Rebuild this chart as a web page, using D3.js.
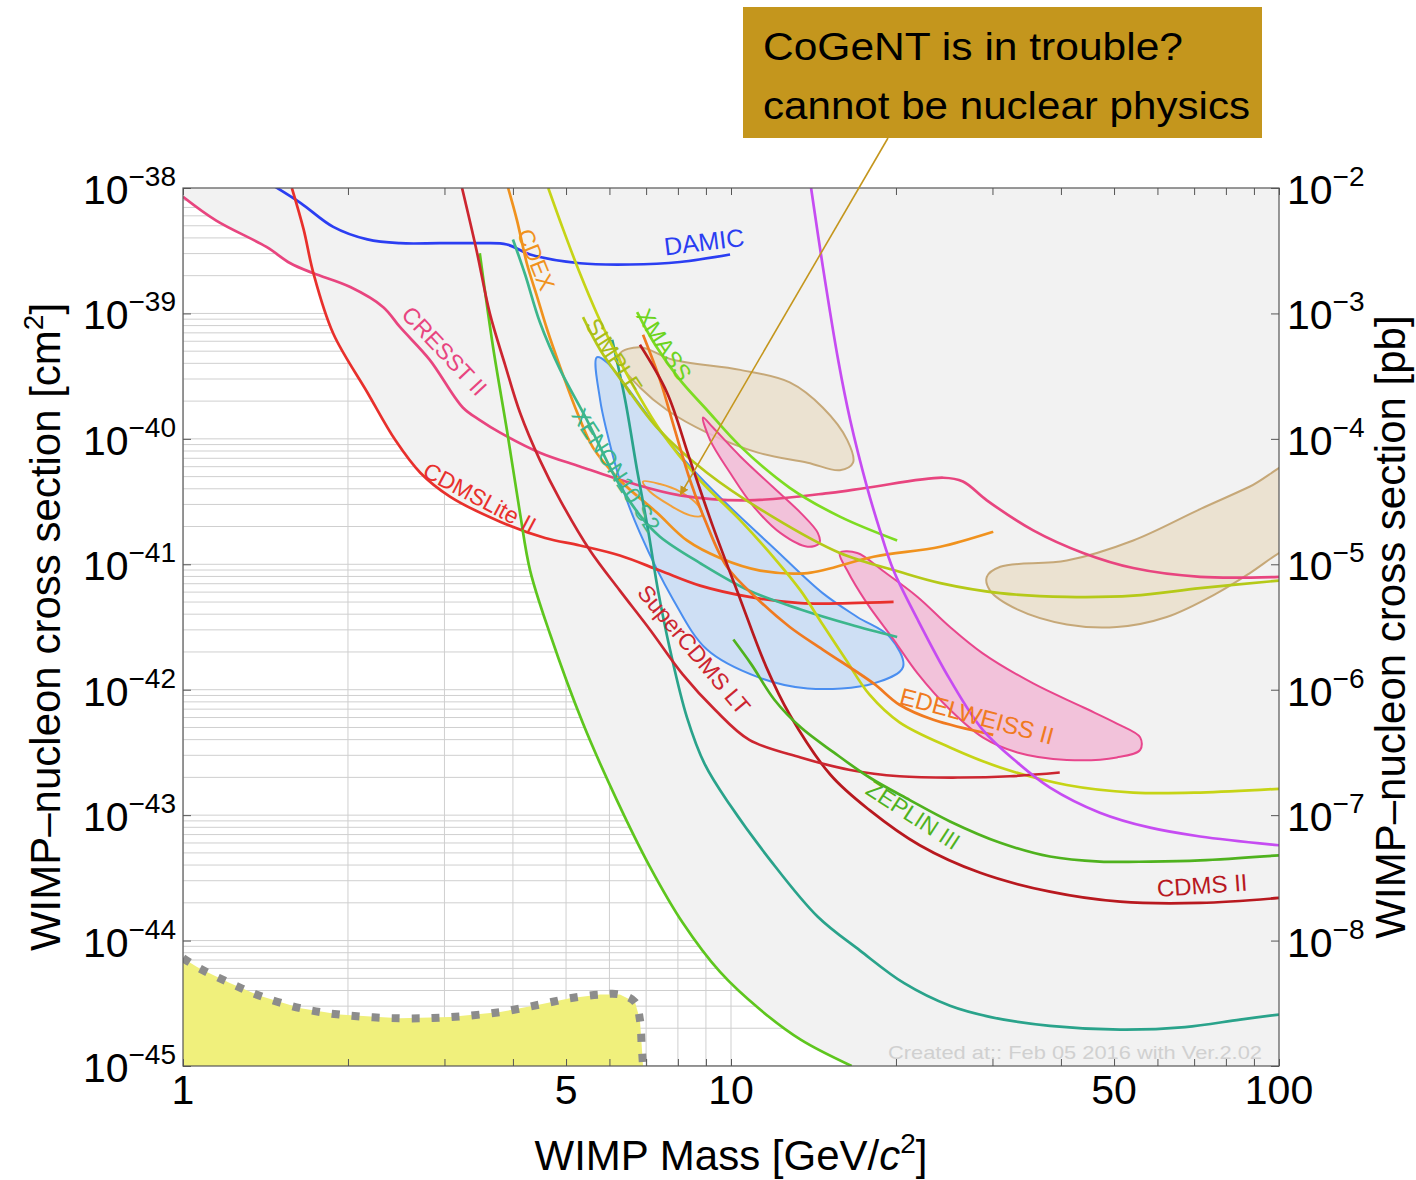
<!DOCTYPE html>
<html>
<head>
<meta charset="utf-8">
<script src="https://cdn.jsdelivr.net/npm/d3@7"></script>
<style>
  body { margin: 0; background: #fff; }
  svg text { font-family: "Liberation Sans", Arial, sans-serif; }
</style>
</head>
<body>
<script>
  // every series: [WIMP mass in GeV, log10 of cross section in cm2]
  var cresstII = [[1.00,-38.07],[1.15,-38.26],[1.42,-38.47],[1.57,-38.60],[1.73,-38.68],[2.02,-38.79],[2.32,-38.95],[2.49,-39.11],[2.82,-39.37],[3.24,-39.75],[3.48,-39.85],[3.79,-39.95],[4.48,-40.11],[5.30,-40.22],[6.54,-40.35],[8.07,-40.45],[10.7,-40.49],[15.2,-40.43],[17.7,-40.39],[24.4,-40.31],[26.5,-40.34],[29.3,-40.49],[35.6,-40.73],[43.9,-40.91],[54.2,-41.03],[71.8,-41.10],[100,-41.10]];
  var damic = [[1.46,-37.98],[1.64,-38.12],[1.88,-38.31],[2.17,-38.41],[2.49,-38.44],[2.94,-38.44],[3.48,-38.44],[3.90,-38.45],[4.30,-38.53],[5.30,-38.60],[6.54,-38.61],[8.07,-38.59],[9.96,-38.53]];
  var cdmsLite = [[1.58,-38.00],[1.66,-38.33],[1.73,-38.68],[1.88,-39.16],[2.17,-39.63],[2.44,-40.01],[2.71,-40.27],[3.07,-40.46],[3.79,-40.66],[4.58,-40.79],[5.30,-40.85],[6.27,-40.93],[7.42,-41.05],[8.78,-41.17],[10.8,-41.26],[13.4,-41.31],[16.5,-41.31],[19.8,-41.30]];
  var superCdms = [[3.23,-38.00],[3.43,-38.49],[3.63,-39.00],[3.87,-39.41],[4.12,-39.79],[4.48,-40.17],[4.88,-40.49],[5.53,-40.89],[6.27,-41.21],[7.11,-41.52],[8.17,-41.88],[9.35,-42.16],[10.8,-42.40],[13.4,-42.54],[16.5,-42.64],[20.3,-42.69],[26.2,-42.70],[32.3,-42.69],[39.8,-42.66]];
  var cdmsII = [[6.82,-39.25],[7.64,-39.63],[8.42,-40.17],[9.27,-40.70],[10.4,-41.28],[11.6,-41.82],[12.8,-42.20],[15.2,-42.68],[17.9,-42.96],[22.1,-43.24],[28.5,-43.46],[38.2,-43.61],[51.3,-43.69],[71.8,-43.70],[100,-43.66]];
  var edelweiss = [[6.91,-39.17],[7.42,-39.53],[7.90,-39.93],[8.42,-40.33],[8.97,-40.65],[9.83,-41.02],[11.2,-41.28],[12.8,-41.50],[14.7,-41.68],[18.2,-41.95],[20.3,-42.12],[23.4,-42.24],[30.1,-42.36]];
  var cdex = [[3.92,-38.00],[4.07,-38.26],[4.24,-38.60],[4.43,-38.87],[4.62,-39.13],[4.88,-39.43],[5.24,-39.79],[5.60,-40.07],[6.27,-40.33],[7.33,-40.59],[8.31,-40.81],[9.55,-40.95],[11.3,-41.05],[13.8,-41.07],[18.2,-40.94],[24.1,-40.86],[30.1,-40.74]];
  var xenon10 = [[4.00,-38.41],[4.21,-38.69],[4.48,-39.07],[4.88,-39.45],[5.46,-39.85],[6.19,-40.33],[6.82,-40.61],[7.42,-40.78],[8.78,-40.99],[10.8,-41.21],[13.4,-41.36],[16.5,-41.48],[20.1,-41.58]];
  var lux = [[6.07,-39.21],[6.41,-39.69],[6.74,-40.25],[7.06,-40.73],[7.36,-41.21],[7.74,-41.68],[8.31,-42.22],[8.97,-42.60],[9.96,-42.92],[11.8,-43.36],[14.4,-43.81],[17.2,-44.08],[20.7,-44.34],[25.1,-44.52],[29.8,-44.61],[38.2,-44.68],[51.3,-44.71],[67.4,-44.69],[84.9,-44.63],[100,-44.59]];
  var greenLow = [[3.48,-38.52],[3.68,-39.27],[3.90,-39.93],[4.12,-40.59],[4.30,-41.05],[4.67,-41.55],[5.37,-42.27],[6.19,-42.88],[7.11,-43.41],[8.17,-43.86],[9.55,-44.25],[11.3,-44.55],[13.4,-44.79],[16.6,-45.00]];
  var xmass = [[6.74,-38.99],[7.27,-39.25],[8.07,-39.53],[9.04,-39.77],[10.4,-40.06],[12.8,-40.39],[15.8,-40.62],[20.1,-40.81]];
  var simple = [[5.37,-39.03],[5.77,-39.29],[6.35,-39.55],[7.33,-39.91],[9.04,-40.27],[11.9,-40.62],[15.8,-40.91],[20.3,-41.06],[24.1,-41.15],[31.0,-41.23],[41.0,-41.26],[54.2,-41.25],[71.8,-41.19],[100,-41.13]];
  var yellowGreen = [[4.64,-38.00],[4.94,-38.33],[5.30,-38.68],[5.69,-39.00],[6.09,-39.27],[6.54,-39.53],[7.42,-39.93],[8.78,-40.33],[10.4,-40.65],[12.1,-40.97],[13.4,-41.21],[14.7,-41.48],[16.2,-41.76],[17.9,-42.04],[20.3,-42.26],[25.1,-42.46],[31.0,-42.62],[41.0,-42.76],[54.2,-42.82],[71.8,-42.82],[100,-42.79]];
  var zeplin = [[10.1,-41.60],[10.9,-41.80],[12.0,-42.08],[13.4,-42.30],[15.4,-42.50],[17.9,-42.70],[21.2,-42.88],[25.1,-43.05],[31.0,-43.22],[38.2,-43.33],[47.1,-43.37],[58.2,-43.37],[71.8,-43.36],[100,-43.32]];
  var purple = [[14.0,-38.00],[14.7,-38.62],[15.7,-39.38],[16.5,-39.85],[17.7,-40.38],[18.7,-40.73],[19.8,-41.05],[21.9,-41.44],[25.1,-41.92],[28.8,-42.32],[33.3,-42.58],[38.2,-42.78],[47.1,-42.98],[58.2,-43.10],[71.8,-43.17],[100,-43.24]];

  // signal regions (closed contours)
  var cdmsSi = [[5.69,-39.35],[5.77,-39.69],[5.94,-39.95],[6.27,-40.33],[6.82,-40.75],[7.84,-41.28],[9.04,-41.68],[11.2,-41.90],[13.8,-41.99],[18.2,-41.95],[20.6,-41.82],[19.5,-41.58],[17.0,-41.42],[14.7,-41.23],[11.9,-40.86],[9.67,-40.49],[8.42,-40.22],[7.33,-39.91],[6.46,-39.59],[5.94,-39.39]];
  var damaLow = [[6.27,-39.32],[6.82,-39.27],[7.84,-39.37],[10.4,-39.45],[12.8,-39.55],[14.7,-39.75],[16.3,-40.01],[16.7,-40.19],[15.8,-40.25],[13.8,-40.19],[11.2,-40.11],[9.04,-39.95],[7.64,-39.77],[6.82,-39.59],[6.35,-39.43]];
  var damaHigh = [[29.3,-41.10],[31.0,-41.02],[41.0,-40.97],[54.2,-40.81],[71.8,-40.56],[88.5,-40.38],[109,-40.18],[109,-40.82],[100,-40.91],[88.5,-41.07],[77.1,-41.23],[62.4,-41.42],[50.6,-41.50],[41.0,-41.48],[33.3,-41.36],[29.7,-41.21]];
  var cresstLow = [[8.89,-39.83],[9.27,-39.91],[10.4,-40.14],[11.9,-40.38],[13.4,-40.59],[14.4,-40.75],[14.5,-40.83],[13.8,-40.86],[12.3,-40.75],[11.0,-40.54],[9.96,-40.27],[9.16,-40.01]];
  var cresstHigh = [[15.8,-40.91],[17.0,-40.91],[18.9,-41.05],[21.9,-41.26],[25.1,-41.50],[28.8,-41.71],[35.6,-41.95],[43.9,-42.14],[50.6,-42.27],[55.8,-42.38],[55.8,-42.48],[50.6,-42.54],[41.0,-42.56],[33.3,-42.50],[28.8,-42.38],[25.1,-42.16],[21.9,-41.87],[19.8,-41.60],[17.7,-41.31],[16.3,-41.05]];
  var cogent = [[6.91,-40.34],[7.42,-40.36],[8.07,-40.42],[8.71,-40.53],[8.85,-40.61],[8.42,-40.61],[7.74,-40.53],[7.11,-40.42]];
  var nuFloor = [[1.00,-44.14],[1.07,-44.22],[1.22,-44.34],[1.38,-44.44],[1.64,-44.54],[1.93,-44.59],[2.49,-44.62],[3.07,-44.61],[3.79,-44.57],[4.48,-44.51],[5.08,-44.46],[5.77,-44.43],[6.27,-44.43],[6.68,-44.49],[6.82,-44.63],[6.87,-44.83],[6.91,-45.00]];

  // axes
  var massTicks = [1,2,3,4,5,6,7,8,9,10,20,30,40,50,60,70,80,90,100];
  var massLabels = [1,5,10,50,100];
  var cmExps = [-38,-39,-40,-41,-42,-43,-44,-45];
  var pbExps = [-2,-3,-4,-5,-6,-7,-8];

  var W = 1416, H = 1180;
  var x = d3.scaleLog().domain([1, 100]).range([183, 1279]);
  var y = d3.scaleLog().domain([1e-45, 1e-38]).range([1066, 188]);
  var sig = function(L) { return Math.pow(10, L); };
  var px = function(d) { return x(d[0]); };
  var py = function(d) { return y(sig(d[1])); };

  var line = d3.line().x(px).y(py).curve(d3.curveCatmullRom.alpha(0.5));
  var loop = d3.line().x(px).y(py).curve(d3.curveCatmullRomClosed.alpha(0.5));
  var straight = d3.line().x(px).y(py);

  var svg = d3.select("body").append("svg").attr("width", W).attr("height", H);
  var defs = svg.append("defs");

  var x0 = x.range()[0], x1 = x.range()[1], yTop = y.range()[1], yBot = y.range()[0];

  defs.append("clipPath").attr("id", "plotClip").append("rect")
    .attr("x", x0).attr("y", yTop).attr("width", x1 - x0).attr("height", yBot - yTop);

  // lowest limit = edge of the excluded (grey) area
  function interpL(data, m) {
    if (m < data[0][0] || m > data[data.length - 1][0]) return null;
    var i = d3.bisector(function(d) { return d[0]; }).right(data, m) - 1;
    if (i >= data.length - 1) return data[data.length - 1][1];
    var a = data[i], b = data[i + 1];
    var t = (Math.log(m) - Math.log(a[0])) / (Math.log(b[0]) - Math.log(a[0]));
    return a[1] + t * (b[1] - a[1]);
  }
  var envMax = greenLow[greenLow.length - 1][0];
  var envelope = d3.range(0, 501).map(function(i) {
    var m = Math.pow(envMax, i / 500);
    var ls = [cresstII, cdmsLite, greenLow].map(function(c) { return interpL(c, m); })
      .filter(function(v) { return v !== null; });
    return [m, d3.min(ls)];
  });
  envelope.push([1, -45]);

  defs.append("clipPath").attr("id", "openClip").append("path")
    .attr("d", straight(envelope) + "Z");

  // background: excluded part grey, the rest white with grid
  svg.append("rect").attr("x", x0).attr("y", yTop).attr("width", x1 - x0).attr("height", yBot - yTop)
    .attr("fill", "#f2f2f2");
  svg.append("path").attr("d", straight(envelope) + "Z").attr("fill", "#fff");

  var grid = svg.append("g").attr("clip-path", "url(#openClip)")
    .attr("stroke", "#cfcfcf").attr("stroke-width", 1);
  massTicks.forEach(function(m) {
    grid.append("line").attr("x1", x(m)).attr("x2", x(m)).attr("y1", yTop).attr("y2", yBot);
  });
  d3.range(-45, -38).forEach(function(e) {
    d3.range(1, 10).forEach(function(k) {
      var v = k * sig(e);
      grid.append("line").attr("x1", x0).attr("x2", x1).attr("y1", y(v)).attr("y2", y(v));
    });
  });

  var plot = svg.append("g").attr("clip-path", "url(#plotClip)");

  // neutrino floor
  plot.append("path").attr("d", straight(nuFloor.concat([[1, -45]])) + "Z")
    .attr("fill", "#f0f07c").attr("stroke", "none");
  plot.append("path").attr("d", line(nuFloor))
    .attr("fill", "none").attr("stroke", "#8c8c8c").attr("stroke-width", 8)
    .attr("stroke-dasharray", "8,12");

  // regions
  var regions = [
    {data: damaLow, fill: "#eadfcb", stroke: "#c6a878"},
    {data: damaHigh, fill: "#eadfcb", stroke: "#c6a878"},
    {data: cdmsSi, fill: "#c8dcf5", stroke: "#4a8ef0"},
    {data: cresstLow, fill: "#f2bad6", stroke: "#e8468c"},
    {data: cresstHigh, fill: "#f2bad6", stroke: "#e8468c"},
    {data: cogent, fill: "none", stroke: "#f2a03a"}
  ];
  regions.forEach(function(r) {
    plot.append("path").attr("d", loop(r.data))
      .attr("fill", r.fill).attr("fill-opacity", 0.85)
      .attr("stroke", r.stroke).attr("stroke-width", 2);
  });

  // limit curves
  var curves = [
    {data: damic, color: "#2b3ef2"},
    {data: cresstII, color: "#e8457f"},
    {data: cdmsLite, color: "#e8302c"},
    {data: cdex, color: "#f0921e"},
    {data: greenLow, color: "#5ec61e"},
    {data: xenon10, color: "#3cb68c"},
    {data: lux, color: "#2aa38b"},
    {data: yellowGreen, color: "#c6d416"},
    {data: simple, color: "#b5c918"},
    {data: xmass, color: "#7ddc22"},
    {data: edelweiss, color: "#f07a20"},
    {data: cdmsII, color: "#b8191f"},
    {data: superCdms, color: "#cc2630"},
    {data: zeplin, color: "#4fb21e"},
    {data: purple, color: "#c64cf2"}
  ];
  curves.forEach(function(c) {
    plot.append("path").attr("d", line(c.data))
      .attr("fill", "none").attr("stroke", c.color).attr("stroke-width", 2.7);
  });

  // curve names, placed in data coordinates
  var names = [
    {t: "DAMIC", m: 8.93, L: -38.43, a: -7, c: "#2b3ef2", s: 25},
    {t: "CDEX", m: 4.41, L: -38.57, a: 68, c: "#f0921e", s: 23},
    {t: "CRESST II", m: 3.00, L: -39.30, a: 47, c: "#e8457f", s: 23},
    {t: "CDMSLite II", m: 3.48, L: -40.47, a: 28, c: "#e8302c", s: 23},
    {t: "SIMPLE", m: 6.12, L: -39.34, a: 57, c: "#a9bc16", s: 23},
    {t: "XMASS", m: 7.55, L: -39.25, a: 57, c: "#6cd41e", s: 23},
    {t: "XENON10 S2", m: 6.17, L: -40.25, a: 57, c: "#3cb68c", s: 23},
    {t: "SuperCDMS LT", m: 8.56, L: -41.68, a: 50, c: "#cc2630", s: 23},
    {t: "EDELWEISS II", m: 28.1, L: -42.21, a: 15, c: "#f07a20", s: 24},
    {t: "ZEPLIN III", m: 21.5, L: -43.00, a: 33, c: "#4fb21e", s: 23},
    {t: "CDMS II", m: 72.4, L: -43.56, a: -4, c: "#b8191f", s: 24}
  ];
  names.forEach(function(n) {
    svg.append("text")
      .attr("transform", "translate(" + x(n.m) + "," + y(sig(n.L)) + ") rotate(" + n.a + ")")
      .attr("text-anchor", "middle").attr("dy", "0.35em")
      .attr("font-size", n.s).attr("fill", n.c).text(n.t);
  });

  svg.append("text").attr("x", 888).attr("y", 1059).attr("font-size", 19)
    .attr("fill", "#d0d0d0").attr("textLength", 374).attr("lengthAdjust", "spacingAndGlyphs")
    .text("Created at:: Feb 05 2016 with Ver.2.02");

  // ticks (inward) and frame
  function noDomain(g) { g.select(".domain").remove(); g.selectAll("line").attr("stroke", "#555"); }
  svg.append("g").attr("transform", "translate(0," + yBot + ")")
    .call(d3.axisBottom(x).tickValues(massTicks).tickSize(-7).tickFormat("")).call(noDomain);
  svg.append("g").attr("transform", "translate(0," + yTop + ")")
    .call(d3.axisTop(x).tickValues(massTicks).tickSize(-7).tickFormat("")).call(noDomain);
  var decades = cmExps.map(sig);
  svg.append("g").attr("transform", "translate(" + x0 + ",0)")
    .call(d3.axisLeft(y).tickValues(decades).tickSize(-8).tickFormat("")).call(noDomain);
  svg.append("g").attr("transform", "translate(" + x1 + ",0)")
    .call(d3.axisRight(y).tickValues(decades).tickSize(-8).tickFormat("")).call(noDomain);
  svg.append("rect").attr("x", x0).attr("y", yTop).attr("width", x1 - x0).attr("height", yBot - yTop)
    .attr("fill", "none").attr("stroke", "#555").attr("stroke-width", 1.2);

  // tick labels
  function powLabel(xPos, yPos, anchor, exp) {
    var t = svg.append("text").attr("x", xPos).attr("y", yPos).attr("text-anchor", anchor).attr("fill", "#000");
    t.append("tspan").attr("font-size", 41).text("10");
    t.append("tspan").attr("font-size", 28).attr("dy", -18).text("\u2212" + Math.abs(exp));
  }
  cmExps.forEach(function(e) { powLabel(176, y(sig(e)) + 16, "end", e); });
  pbExps.forEach(function(e) { powLabel(1287, y(sig(e - 36)) + 16, "start", e); });
  massLabels.forEach(function(m) {
    svg.append("text").attr("x", x(m)).attr("y", 1104).attr("text-anchor", "middle")
      .attr("font-size", 41).text(m);
  });

  // axis titles
  var xt = svg.append("text").attr("x", 731).attr("y", 1170).attr("text-anchor", "middle").attr("font-size", 42);
  xt.append("tspan").text("WIMP Mass [GeV/");
  xt.append("tspan").attr("font-style", "italic").text("c");
  xt.append("tspan").attr("font-size", 28).attr("dy", -17).text("2");
  xt.append("tspan").attr("dy", 17).text("]");

  function yTitle(xPos, unit, sup) {
    var t = svg.append("text").attr("transform", "translate(" + xPos + ",627) rotate(-90)")
      .attr("text-anchor", "middle").attr("font-size", 42);
    t.append("tspan").text("WIMP\u2013nucleon cross section [" + unit);
    if (sup) t.append("tspan").attr("font-size", 28).attr("dy", -17).text(sup);
    t.append("tspan").attr("dy", sup ? 17 : 0).text("]");
  }
  yTitle(60, "cm", "2");
  yTitle(1405, "pb", null);

  // annotation box and arrow
  defs.append("marker").attr("id", "arrow").attr("viewBox", "0 0 10 10")
    .attr("refX", 10).attr("refY", 5).attr("markerWidth", 9).attr("markerHeight", 9)
    .attr("markerUnits", "userSpaceOnUse").attr("orient", "auto")
    .append("path").attr("d", "M0,0 L10,5 L0,10 z").attr("fill", "#c4961d");
  svg.append("line").attr("x1", 888).attr("y1", 138)
    .attr("x2", x(8.07)).attr("y2", y(sig(-40.45)))
    .attr("stroke", "#c4961d").attr("stroke-width", 1.6).attr("marker-end", "url(#arrow)");
  svg.append("rect").attr("x", 743).attr("y", 7).attr("width", 519).attr("height", 131).attr("fill", "#c4961d");
  var note = svg.append("g").attr("font-family", "'Comic Sans MS', 'Comic Neue', 'DejaVu Sans', sans-serif")
    .attr("font-size", 38).attr("fill", "#000");
  note.append("text").attr("x", 763).attr("y", 60).attr("textLength", 420)
    .attr("lengthAdjust", "spacingAndGlyphs").text("CoGeNT is in trouble?");
  note.append("text").attr("x", 763).attr("y", 119).attr("textLength", 487)
    .attr("lengthAdjust", "spacingAndGlyphs").text("cannot be nuclear physics");
</script>
</body>
</html>
